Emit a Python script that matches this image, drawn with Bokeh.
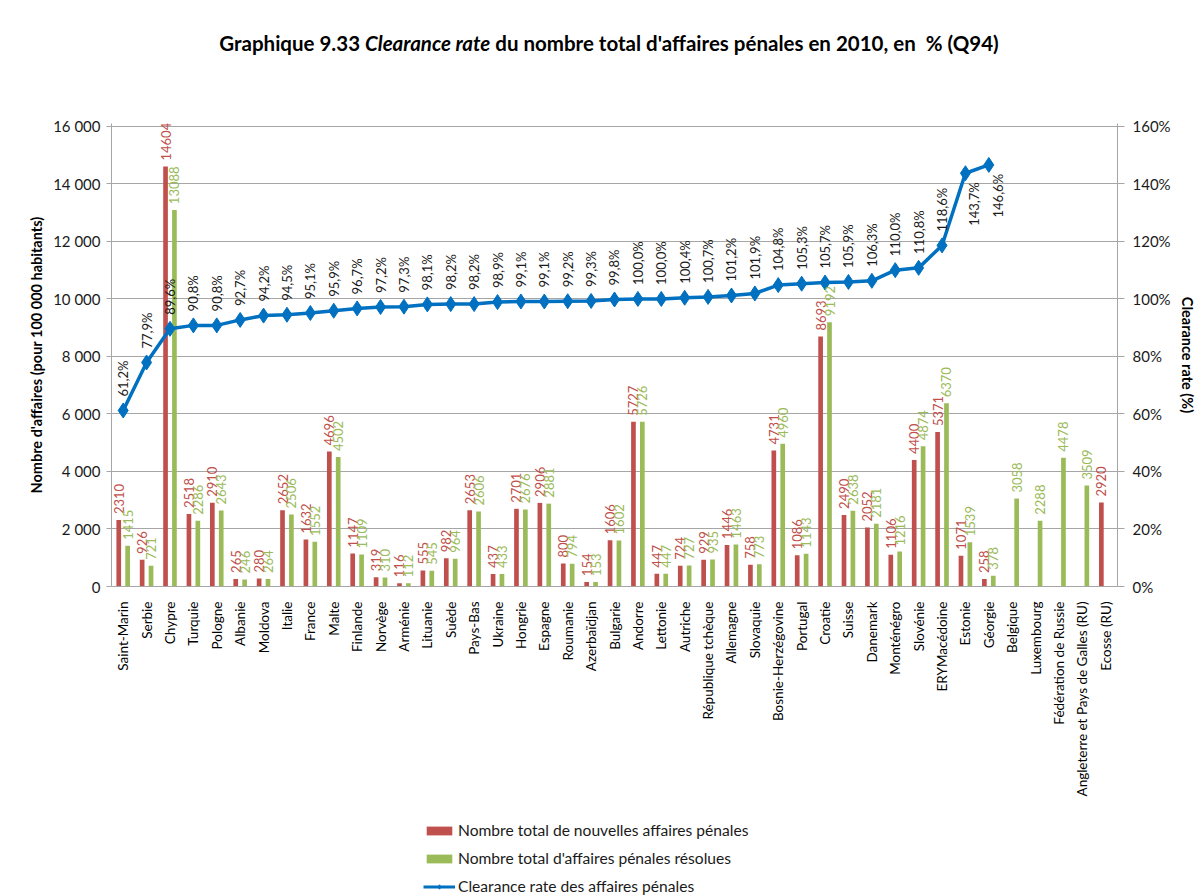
import math
from bokeh.plotting import figure
from bokeh.models import (ColumnDataSource, FactorRange, Range1d, LinearAxis, LabelSet,
                          Legend, LegendItem, CustomJSTickFormatter, PrintfTickFormatter, Div)
from bokeh.transform import dodge
from bokeh.layouts import column
from bokeh.embed import file_html
from bokeh.resources import INLINE
from bokeh.core.properties import value

NAN = float("nan")

countries = ["Saint-Marin", "Serbie", "Chypre", "Turquie", "Pologne", "Albanie", "Moldova",
             "Italie", "France", "Malte", "Finlande", "Norvège", "Arménie", "Lituanie", "Suède",
             "Pays-Bas", "Ukraine", "Hongrie", "Espagne", "Roumanie", "Azerbaïdjan", "Bulgarie",
             "Andorre", "Lettonie", "Autriche", "République tchèque", "Allemagne", "Slovaquie",
             "Bosnie-Herzégovine", "Portugal", "Croatie", "Suisse", "Danemark", "Monténégro",
             "Slovénie", "ERYMacédoine", "Estonie", "Géorgie", "Belgique", "Luxembourg",
             "Fédération de Russie", "Angleterre et Pays de Galles (RU)", "Ecosse (RU)"]

new_cases = [2310, 926, 14604, 2518, 2910, 265, 280, 2652, 1632, 4696, 1147, 319, 116, 555, 982,
             2653, 437, 2701, 2906, 800, 154, 1606, 5727, 447, 724, 929, 1446, 758, 4731, 1086,
             8693, 2490, 2052, 1106, 4400, 5371, 1071, 258, NAN, NAN, NAN, NAN, 2920]

resolved_cases = [1415, 721, 13088, 2286, 2643, 246, 264, 2506, 1552, 4502, 1109, 310, 112, 545,
                  964, 2606, 433, 2676, 2881, 794, 153, 1602, 5726, 447, 727, 935, 1463, 773,
                  4960, 1143, 9192, 2638, 2181, 1216, 4874, 6370, 1539, 378, 3058, 2288, 4478,
                  3509, NAN]

clearance_rate = [61.2, 77.9, 89.6, 90.8, 90.8, 92.7, 94.2, 94.5, 95.1, 95.9, 96.7, 97.2, 97.3,
                  98.1, 98.2, 98.2, 98.9, 99.1, 99.1, 99.2, 99.3, 99.8, 100.0, 100.0, 100.4,
                  100.7, 101.2, 101.9, 104.8, 105.3, 105.7, 105.9, 106.3, 110.0, 110.8, 118.6,
                  143.7, 146.6]

left_ticks = [0, 2000, 4000, 6000, 8000, 10000, 12000, 14000, 16000]
right_ticks = [0, 20, 40, 60, 80, 100, 120, 140, 160]
rate_labels_below = ["Estonie", "Géorgie"]

legend_labels = ["Nombre total de nouvelles affaires pénales",
                 "Nombre total d'affaires pénales résolues",
                 "Clearance rate des affaires pénales"]

FONT = "Lato"
RED = "#c0504d"
GREEN = "#9bbb59"
BLUE = "#0070c0"
GRID = "#a6a6a6"
TXT = "#1a1a1a"

p = figure(x_range=FactorRange(factors=countries, range_padding=0, factor_padding=0),
           y_range=Range1d(0, 16100), width=1198, height=763,
           output_backend="svg", toolbar_location=None, margin=0,
           min_border_left=111, min_border_right=78, min_border_top=67, min_border_bottom=233)
p.extra_y_ranges = {"rate": Range1d(0, 161)}
p.outline_line_color = None
p.background_fill_color = "white"
p.border_fill_color = "white"

bar_src = ColumnDataSource(dict(country=countries, new=new_cases, resolved=resolved_cases))
p.vbar(x=dodge("country", -0.19, range=p.x_range), top="new", width=0.2,
       source=bar_src, fill_color=RED, line_color=None)
p.vbar(x=dodge("country", 0.19, range=p.x_range), top="resolved", width=0.2,
       source=bar_src, fill_color=GREEN, line_color=None)

# bar value labels
new_lbl = ColumnDataSource(dict(
    country=[c for c, v in zip(countries, new_cases) if not math.isnan(v)],
    y=[v for v in new_cases if not math.isnan(v)],
    t=[str(int(v)) for v in new_cases if not math.isnan(v)]))
res_lbl = ColumnDataSource(dict(
    country=[c for c, v in zip(countries, resolved_cases) if not math.isnan(v)],
    y=[v for v in resolved_cases if not math.isnan(v)],
    t=[str(int(v)) for v in resolved_cases if not math.isnan(v)]))
for src, off, col in [(new_lbl, -0.19, RED), (res_lbl, 0.19, GREEN)]:
    p.add_layout(LabelSet(x=dodge("country", off, range=p.x_range), y="y", text="t", source=src,
                          angle=math.pi / 2, text_align="left", text_baseline="middle",
                          y_offset=6, text_color=col, text_font=value(FONT),
                          text_font_size="13px"))

# clearance rate line
rate_countries = countries[:len(clearance_rate)]
rate_src = ColumnDataSource(dict(country=rate_countries, rate=clearance_rate))
p.line(x="country", y="rate", source=rate_src, y_range_name="rate",
       line_color=BLUE, line_width=3.5)
p.scatter(x="country", y="rate", source=rate_src, y_range_name="rate",
          marker="diamond", size=15, fill_color=BLUE, line_color=BLUE)

def fmt_rate(v):
    return ("%.1f" % v).replace(".", ",") + "%"

above = [(c, v) for c, v in zip(rate_countries, clearance_rate) if c not in rate_labels_below]
below = [(c, v) for c, v in zip(rate_countries, clearance_rate) if c in rate_labels_below]
above_src = ColumnDataSource(dict(country=[c for c, _ in above], y=[v for _, v in above],
                                  t=[fmt_rate(v) for _, v in above]))
below_src = ColumnDataSource(dict(country=[c for c, _ in below], y=[v for _, v in below],
                                  t=[fmt_rate(v) for _, v in below]))
p.add_layout(LabelSet(x="country", y="y", text="t", source=above_src, y_range_name="rate",
                      angle=math.pi / 2, text_align="left", text_baseline="middle",
                      y_offset=14, text_color=TXT, text_font=value(FONT), text_font_size="13px"))
p.add_layout(LabelSet(x="country", y="y", text="t", source=below_src, y_range_name="rate",
                      angle=math.pi / 2, text_align="right", text_baseline="middle",
                      x_offset=9, y_offset=-9, text_color=TXT, text_font=value(FONT),
                      text_font_size="13px"))

# axes
p.yaxis.ticker = left_ticks
p.yaxis.formatter = CustomJSTickFormatter(code="""
    const s = Math.round(tick).toString();
    return s.replace(/\\B(?=(\\d{3})+(?!\\d))/g, ' ');
""")
p.yaxis.axis_label = "Nombre d'affaires (pour 100 000 habitants)"
p.yaxis.axis_label_text_font = FONT
p.yaxis.axis_label_text_font_style = "bold"
p.yaxis.axis_label_text_font_size = "14.5px"
p.yaxis.axis_label_text_color = "black"
p.yaxis.axis_label_standoff = 5
p.yaxis.major_label_text_font = FONT
p.yaxis.major_label_text_font_size = "15px"
p.yaxis.major_label_text_color = TXT
p.yaxis.major_tick_out = 5
p.yaxis.major_tick_in = 0
p.yaxis.minor_tick_line_color = None
p.yaxis.major_label_standoff = 6
p.yaxis.axis_line_color = GRID
p.yaxis.major_tick_line_color = GRID

ax_r = LinearAxis(y_range_name="rate", ticker=right_ticks,
                  formatter=PrintfTickFormatter(format="%d%%"),
                  axis_label="Clearance rate (%)")
ax_r.axis_label_text_font = FONT
ax_r.axis_label_text_font_style = "bold"
ax_r.axis_label_text_font_size = "14.5px"
ax_r.axis_label_text_color = "black"
ax_r.axis_label_standoff = 5
ax_r.major_label_text_font = FONT
ax_r.major_label_text_font_size = "15px"
ax_r.major_label_text_color = TXT
ax_r.major_tick_out = 7
ax_r.major_tick_in = 0
ax_r.minor_tick_line_color = None
ax_r.major_label_standoff = 8
ax_r.axis_line_color = GRID
ax_r.major_tick_line_color = GRID
p.add_layout(ax_r, "right")

p.xaxis.major_label_orientation = math.pi / 2
p.xaxis.major_label_text_font = FONT
p.xaxis.major_label_text_font_size = "13.5px"
p.xaxis.major_label_text_color = "black"
p.xaxis.major_tick_line_color = None
p.xaxis.major_label_standoff = 9
p.xaxis.axis_line_color = GRID

p.xgrid.grid_line_color = None
p.ygrid.grid_line_color = GRID
p.ygrid.grid_line_width = 1

# legend in a strip below the chart (legend swatch renderers hold no drawable point)
lg = figure(width=1198, height=77, x_range=Range1d(0, 1), y_range=Range1d(0, 1),
            output_backend="svg", toolbar_location=None, margin=0,
            x_axis_type=None, y_axis_type=None, min_border=0)
lg.outline_line_color = None
lg.grid.grid_line_color = None
swatch = ColumnDataSource(dict(x=[NAN], y=[NAN]))
g_new = lg.vbar(x="x", top="y", width=0.1, source=swatch, fill_color=RED, line_color=None)
g_res = lg.vbar(x="x", top="y", width=0.1, source=swatch, fill_color=GREEN, line_color=None)
g_line = lg.line(x="x", y="y", source=swatch, line_color=BLUE, line_width=3)
g_mark = lg.scatter(x="x", y="y", source=swatch, marker="diamond", size=12,
                    fill_color=BLUE, line_color=BLUE)
legend = Legend(items=[
    LegendItem(label=legend_labels[0], renderers=[g_new]),
    LegendItem(label=legend_labels[1], renderers=[g_res]),
    LegendItem(label=legend_labels[2], renderers=[g_line, g_mark]),
], location=(312, 1), orientation="vertical", glyph_width=32, glyph_height=11,
   label_height=18, spacing=10, padding=0, margin=0, border_line_color=None,
   background_fill_alpha=0, label_text_font=FONT, label_text_font_size="15.6px",
   label_text_color=TXT, label_standoff=3)
lg.add_layout(legend)

title = Div(text="Graphique 9.33 <i>Clearance rate</i> du nombre total d'affaires pénales en 2010, en&nbsp; % (Q94)",
            width=1198, height=56, margin=0,
            styles={"text-align": "center", "font-family": "Lato", "font-weight": "bold",
                    "font-size": "20.5px", "padding-top": "29px", "padding-left": "20px",
                    "box-sizing": "border-box", "color": "black"})

layout = column(title, p, lg, spacing=0)
open("out.html", "w").write(file_html(layout, INLINE))
